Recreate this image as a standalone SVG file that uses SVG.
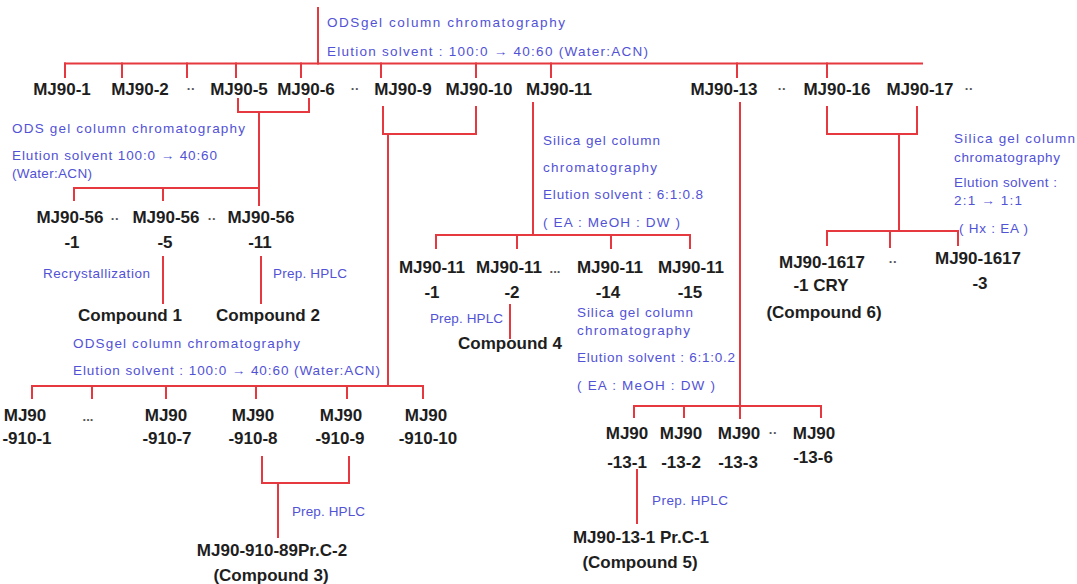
<svg xmlns="http://www.w3.org/2000/svg" width="1077" height="584" viewBox="0 0 1077 584">
  <style>
    .ln { stroke: #e5383f; stroke-width: 2; fill: none; stroke-linecap: square; }
    .lbl { font-family: "Liberation Sans", Arial, sans-serif; font-weight: bold; font-size: 17px; fill: #1e1e1e; text-anchor: middle; }
    .dots { font-family: "Liberation Sans", Arial, sans-serif; font-weight: bold; font-size: 13px; fill: #555; text-anchor: middle; }
    .note { font-family: "Liberation Sans", Arial, sans-serif; font-size: 13.5px; fill: #5252d6; }
  </style>
  <rect width="1077" height="584" fill="#ffffff"/>

  <!-- connectors -->
  <g id="connectors" class="ln">
    <!-- crude extract split -->
    <path d="M318 8V63.5"/>
    <path d="M65 63.5H922"/>
    <path d="M65 63.5V77M122 63.5V77M187 63.5V77M236 63.5V77M301 63.5V77M381 63.5V77M476 63.5V77M551 63.5V77M737 63.5V77M827 63.5V77"/>
    <!-- MJ90-5 / MJ90-6 -->
    <path d="M238 99V112H309V99"/>
    <path d="M259 112V205"/>
    <path d="M74 200V188H259"/>
    <path d="M163 188V200"/>
    <path d="M163 257V303M261 257V303"/>
    <!-- MJ90-9 / MJ90-10 -->
    <path d="M383 107V134H476V107"/>
    <path d="M388 134V386"/>
    <path d="M32 398V386H423V398"/>
    <path d="M92 386V398M166 386V398M256 386V398M347 386V398"/>
    <path d="M262 457V483H349V457"/>
    <path d="M278 483V537"/>
    <!-- MJ90-11 -->
    <path d="M533 103V235"/>
    <path d="M436 248V235H690V248"/>
    <path d="M517 235V248M611 235V248"/>
    <path d="M510 305V338"/>
    <!-- MJ90-13 -->
    <path d="M740 103V418"/>
    <path d="M634 417V406H821V417"/>
    <path d="M684 406V417"/>
    <path d="M637 470V523"/>
    <!-- MJ90-16 / MJ90-17 -->
    <path d="M827 107V134H917V107"/>
    <path d="M899 134V231"/>
    <path d="M827 245V231H958V245"/>
    <path d="M890 231V247"/>
  </g>

  <!-- process notes -->
  <g id="notes" class="note">
    <text x="327" y="27" textLength="238" lengthAdjust="spacing">ODSgel column chromatography</text>
    <text x="327" y="56" textLength="321" lengthAdjust="spacing">Elution solvent : 100:0 → 40:60  (Water:ACN)</text>
    <text x="12" y="133" textLength="233" lengthAdjust="spacing">ODS gel column chromatography</text>
    <text x="12" y="160" textLength="205" lengthAdjust="spacing">Elution solvent 100:0 → 40:60</text>
    <text x="12" y="178" textLength="80" lengthAdjust="spacing">(Water:ACN)</text>
    <text x="43" y="278" textLength="107" lengthAdjust="spacing">Recrystallization</text>
    <text x="273" y="278" textLength="74" lengthAdjust="spacing">Prep. HPLC</text>
    <text x="543" y="145" textLength="117" lengthAdjust="spacing">Silica gel column</text>
    <text x="543" y="172" textLength="114" lengthAdjust="spacing">chromatography</text>
    <text x="543" y="199" textLength="160" lengthAdjust="spacing">Elution solvent : 6:1:0.8</text>
    <text x="543" y="227" textLength="137" lengthAdjust="spacing">( EA : MeOH : DW )</text>
    <text x="430" y="323" textLength="73" lengthAdjust="spacing">Prep. HPLC</text>
    <text x="577" y="317" textLength="116" lengthAdjust="spacing">Silica gel column</text>
    <text x="577" y="335" textLength="113" lengthAdjust="spacing">chromatography</text>
    <text x="577" y="362" textLength="158" lengthAdjust="spacing">Elution solvent : 6:1:0.2</text>
    <text x="577" y="390" textLength="138" lengthAdjust="spacing">( EA : MeOH : DW )</text>
    <text x="73" y="348" textLength="227" lengthAdjust="spacing">ODSgel column chromatography</text>
    <text x="73" y="375" textLength="307" lengthAdjust="spacing">Elution solvent : 100:0 → 40:60 (Water:ACN)</text>
    <text x="292" y="516" textLength="73" lengthAdjust="spacing">Prep. HPLC</text>
    <text x="652" y="505" textLength="76" lengthAdjust="spacing">Prep. HPLC</text>
    <text x="954" y="143" textLength="121" lengthAdjust="spacing">Silica gel column</text>
    <text x="954" y="162" textLength="106" lengthAdjust="spacing">chromatography</text>
    <text x="954" y="187" textLength="103" lengthAdjust="spacing">Elution solvent :</text>
    <text x="954" y="205" textLength="68" lengthAdjust="spacing">2:1 → 1:1</text>
    <text x="959" y="233" textLength="69" lengthAdjust="spacing">( Hx : EA )</text>
  </g>

  <!-- first fractions -->
  <g id="mj90-1" class="lbl"><text x="62" y="95">MJ90-1</text></g>
  <g id="mj90-2" class="lbl"><text x="140" y="95">MJ90-2</text></g>
  <g id="gap-1" class="dots"><text x="191" y="93">··</text></g>
  <g id="mj90-5" class="lbl"><text x="239" y="95">MJ90-5</text></g>
  <g id="mj90-6" class="lbl"><text x="306" y="95">MJ90-6</text></g>
  <g id="gap-2" class="dots"><text x="355" y="93">··</text></g>
  <g id="mj90-9" class="lbl"><text x="403" y="95">MJ90-9</text></g>
  <g id="mj90-10" class="lbl"><text x="479" y="95">MJ90-10</text></g>
  <g id="mj90-11" class="lbl"><text x="559" y="95">MJ90-11</text></g>
  <g id="mj90-13" class="lbl"><text x="724" y="95">MJ90-13</text></g>
  <g id="gap-3" class="dots"><text x="782" y="93">··</text></g>
  <g id="mj90-16" class="lbl"><text x="837" y="95">MJ90-16</text></g>
  <g id="mj90-17" class="lbl"><text x="920" y="95">MJ90-17</text></g>
  <g id="gap-4" class="dots"><text x="969" y="93">··</text></g>

  <!-- MJ90-56 sub-fractions -->
  <g id="mj90-56-1" class="lbl"><text x="70" y="223">MJ90-56</text><text x="72" y="248">-1</text></g>
  <g id="gap-5" class="dots"><text x="115" y="223">··</text></g>
  <g id="mj90-56-5" class="lbl"><text x="166" y="223">MJ90-56</text><text x="165" y="248">-5</text></g>
  <g id="gap-6" class="dots"><text x="212" y="223">··</text></g>
  <g id="mj90-56-11" class="lbl"><text x="261" y="223">MJ90-56</text><text x="260" y="248">-11</text></g>
  <g id="compound-1" class="lbl"><text x="130" y="321">Compound 1</text></g>
  <g id="compound-2" class="lbl"><text x="268" y="321">Compound 2</text></g>

  <!-- MJ90-11 sub-fractions -->
  <g id="mj90-11-1" class="lbl"><text x="432" y="273">MJ90-11</text><text x="432" y="298">-1</text></g>
  <g id="mj90-11-2" class="lbl"><text x="509" y="273">MJ90-11</text><text x="512" y="298">-2</text></g>
  <g id="gap-7" class="dots"><text x="555" y="273">...</text></g>
  <g id="mj90-11-14" class="lbl"><text x="610" y="273">MJ90-11</text><text x="608" y="298">-14</text></g>
  <g id="mj90-11-15" class="lbl"><text x="691" y="273">MJ90-11</text><text x="690" y="298">-15</text></g>
  <g id="compound-4" class="lbl"><text x="510" y="349">Compound 4</text></g>

  <!-- MJ90-1617 sub-fractions -->
  <g id="mj90-1617-1" class="lbl"><text x="822" y="268">MJ90-1617</text><text x="821" y="291">-1 CRY</text><text x="824" y="318">(Compound 6)</text></g>
  <g id="gap-8" class="dots"><text x="893" y="266">··</text></g>
  <g id="mj90-1617-3" class="lbl"><text x="978" y="264">MJ90-1617</text><text x="980" y="289">-3</text></g>

  <!-- MJ90-910 sub-fractions -->
  <g id="mj90-910-1" class="lbl"><text x="25" y="421">MJ90</text><text x="27" y="444">-910-1</text></g>
  <g id="gap-9" class="dots"><text x="88" y="421">...</text></g>
  <g id="mj90-910-7" class="lbl"><text x="166" y="421">MJ90</text><text x="167" y="444">-910-7</text></g>
  <g id="mj90-910-8" class="lbl"><text x="253" y="421">MJ90</text><text x="253" y="444">-910-8</text></g>
  <g id="mj90-910-9" class="lbl"><text x="341" y="421">MJ90</text><text x="340" y="444">-910-9</text></g>
  <g id="mj90-910-10" class="lbl"><text x="426" y="421">MJ90</text><text x="428" y="444">-910-10</text></g>
  <g id="compound-3" class="lbl"><text x="272" y="556">MJ90-910-89Pr.C-2</text><text x="271" y="581">(Compound 3)</text></g>

  <!-- MJ90-13 sub-fractions -->
  <g id="mj90-13-1" class="lbl"><text x="627" y="439">MJ90</text><text x="627" y="468">-13-1</text></g>
  <g id="mj90-13-2" class="lbl"><text x="681" y="439">MJ90</text><text x="681" y="468">-13-2</text></g>
  <g id="mj90-13-3" class="lbl"><text x="739" y="439">MJ90</text><text x="738" y="468">-13-3</text></g>
  <g id="gap-10" class="dots"><text x="773" y="437">··</text></g>
  <g id="mj90-13-6" class="lbl"><text x="814" y="439">MJ90</text><text x="813" y="463">-13-6</text></g>
  <g id="compound-5" class="lbl"><text x="641" y="543">MJ90-13-1 Pr.C-1</text><text x="640" y="568">(Compound 5)</text></g>
</svg>
